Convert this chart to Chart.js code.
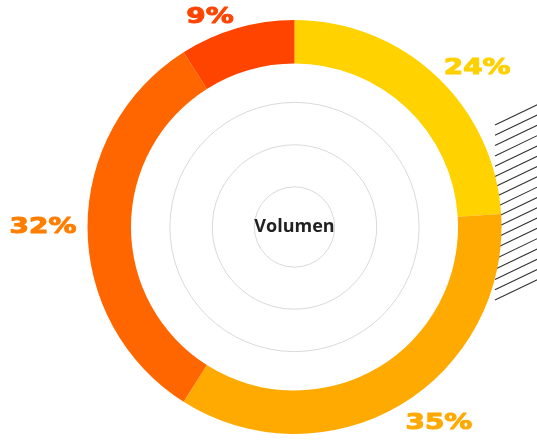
<!DOCTYPE html>
<html>
<head>
<meta charset="utf-8">
<script src="https://cdn.jsdelivr.net/npm/chart.js@4"></script>
<style>
  html, body { margin: 0; padding: 0; background: #fff; }
  #wrap { width: 537px; height: 443px; position: relative; }
</style>
</head>
<body>
<div id="wrap"><canvas id="volChart"></canvas></div>
<script>
const labels = ['A', 'B', 'C', 'D'];
const values = [24, 35, 32, 9];
const colors = ['#FFD200', '#FFAA00', '#FF6600', '#FF4400'];
const labelColors = ['#FFD000', '#FFAA00', '#FF7E00', '#FF4400'];
const centerText = 'Volumen';

// decorative background: hatch lines + grey rings
const backdrop = {
    id: 'backdrop',
    beforeDatasetsDraw(chart) {
        const ctx = chart.ctx;
        const arc = chart.getDatasetMeta(0).data[0];
        const cx = arc.x, cy = arc.y, r = arc.outerRadius;
        ctx.save();
        // hatch
        ctx.beginPath();
        ctx.rect(494, 95, 43, 215);
        ctx.clip();
        ctx.strokeStyle = '#333';
        ctx.lineWidth = 1.1;
        for (let i = 0; i < 18; i++) {
            const y = 125 + i * 10.3;
            ctx.beginPath();
            ctx.moveTo(495, y);
            ctx.lineTo(545, y - 24);
            ctx.stroke();
        }
        ctx.restore();
        ctx.save();
        ctx.strokeStyle = '#d9d9d9';
        ctx.lineWidth = 1;
        [0.194, 0.397, 0.602].forEach(f => {
            ctx.beginPath();
            ctx.arc(cx, cy, r * f, 0, Math.PI * 2);
            ctx.stroke();
        });
        ctx.fillStyle = '#222';
        ctx.font = 'bold 18px "Open Sans"';
        ctx.textAlign = 'center';
        ctx.textBaseline = 'middle';
        ctx.fillText(centerText, cx, cy);
        ctx.restore();
    }
};

// percentage labels outside the ring
const outLabels = {
    id: 'outLabels',
    afterDatasetsDraw(chart) {
        const ctx = chart.ctx;
        const meta = chart.getDatasetMeta(0);
        const sx = 1.27;
        ctx.save();
        ctx.font = 'bold 22px "DejaVu Sans"';
        ctx.textBaseline = 'middle';
        ctx.lineJoin = 'round';
        meta.data.forEach((arc, i) => {
            const mid = (arc.startAngle + arc.endAngle) / 2;
            const rr = arc.outerRadius + 11;
            const x = arc.x + Math.cos(mid) * rr;
            let y = arc.y + Math.sin(mid) * rr + (Math.sin(mid) > 0.5 ? 9 : 0);
            y = Math.max(17, y);
            const t = values[i] + '%';
            const right = Math.cos(mid) >= 0;
            ctx.fillStyle = labelColors[i];
            ctx.strokeStyle = labelColors[i];
            ctx.lineWidth = 1;
            ctx.save();
            ctx.translate(x, y);
            ctx.scale(sx, 1);
            ctx.textAlign = right ? 'left' : 'right';
            ctx.fillText(t, 0, 0);
            ctx.strokeText(t, 0, 0);
            ctx.restore();
        });
        ctx.restore();
    }
};

new Chart(document.getElementById('volChart').getContext('2d'), {
    type: 'doughnut',
    data: {
        labels: labels,
        datasets: [{
            data: values,
            backgroundColor: colors,
            borderWidth: 0
        }]
    },
    options: {
        responsive: true,
        maintainAspectRatio: false,
        animation: false,
        cutout: '79%',
        layout: { padding: { top: 20, bottom: 9, left: 52, right: 0 } },
        plugins: {
            legend: { display: false },
            tooltip: { enabled: false }
        }
    },
    plugins: [backdrop, outLabels]
});
</script>
</body>
</html>
